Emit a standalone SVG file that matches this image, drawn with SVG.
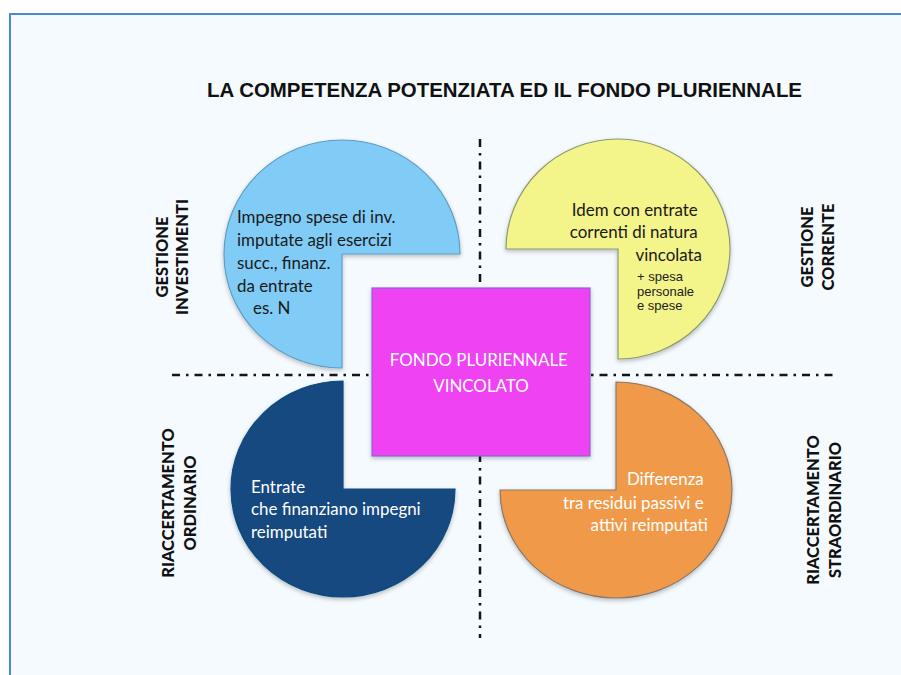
<svg xmlns="http://www.w3.org/2000/svg" width="901" height="675" viewBox="0 0 901 675">
  <defs>
    <filter id="sh" x="-10%" y="-10%" width="120%" height="125%">
      <feDropShadow dx="0" dy="2" stdDeviation="2" flood-color="#000" flood-opacity="0.25"/>
    </filter>
  </defs>
  <style>
    .title{font-family:"Liberation Sans",Arial,sans-serif;font-weight:bold;font-size:21px;fill:#111}
    .side{font-family:"Lato","Liberation Sans",sans-serif;font-weight:900;font-size:16.5px;fill:#111;text-anchor:middle}
    .body{font-family:"Lato","Liberation Sans",sans-serif;font-size:16.9px}
    .small{font-family:"Liberation Sans",Arial,sans-serif;font-size:13px;fill:#222}
    .axis{stroke:#151515;stroke-width:2.5;fill:none;stroke-dasharray:8 6 2.5 6}
    .shape{stroke-width:1.2}
  </style>
  <rect x="0" y="0" width="901" height="675" fill="#ffffff"/>
  <rect x="10" y="14" width="900" height="670" fill="#f4fafd" stroke="#4a88d8" stroke-width="2"/>

  <text class="title" x="207" y="97" textLength="595" lengthAdjust="spacingAndGlyphs">LA COMPETENZA POTENZIATA ED IL FONDO PLURIENNALE</text>

  <g id="connectors">
    <line class="axis" x1="172" y1="375" x2="833" y2="375"/>
    <line class="axis" x1="480" y1="139" x2="480" y2="638"/>
  </g>

  <g id="gestione-investimenti">
    <path class="shape" d="M342,254 L460,254 A118,114 0 1 0 342,368 Z" fill="#80ccf6" stroke="#5f9dc4" filter="url(#sh)"/>
    <text class="body" fill="#1a1a1a">
      <tspan x="237" y="223">Impegno spese di inv.</tspan>
      <tspan x="237" y="246">imputate agli esercizi</tspan>
      <tspan x="237" y="269">succ., finanz.</tspan>
      <tspan x="237" y="292">da entrate</tspan>
      <tspan x="253" y="314">es. N</tspan>
    </text>
  </g>

  <g id="gestione-corrente">
    <path class="shape" d="M618,249 L618,359 A112,110 0 1 0 506,249 Z" fill="#f3f48a" stroke="#8c9a70" filter="url(#sh)"/>
    <text class="body" fill="#1a1a1a" text-anchor="end">
      <tspan x="702" y="216">Idem con entrate</tspan>
      <tspan x="702" y="238">correnti di natura</tspan>
      <tspan x="702" y="261">vincolata</tspan>
    </text>
    <text class="small">
      <tspan x="637" y="281">+ spesa</tspan>
      <tspan x="637" y="296">personale</tspan>
      <tspan x="637" y="310">e spese</tspan>
    </text>
  </g>

  <g id="riaccertamento-ordinario">
    <path class="shape" d="M343,489 L343,381 A112,108 0 1 0 455,489 Z" fill="#124a80" stroke="#124a80" filter="url(#sh)"/>
    <text class="body" fill="#ffffff">
      <tspan x="251" y="493">Entrate</tspan>
      <tspan x="251" y="515">che finanziano impegni</tspan>
      <tspan x="251" y="538">reimputati</tspan>
    </text>
  </g>

  <g id="riaccertamento-straordinario">
    <path class="shape" d="M616,490 L500,490 A116,108 0 1 0 616,382 Z" fill="#f09a48" stroke="#8a7868" filter="url(#sh)"/>
    <text class="body" fill="#ffffff" text-anchor="end">
      <tspan x="708" y="485">Differenza</tspan>
      <tspan x="708" y="509">tra residui passivi e</tspan>
      <tspan x="708" y="531">attivi reimputati</tspan>
    </text>
  </g>

  <g id="fondo-pluriennale-vincolato">
    <rect x="372" y="288" width="218" height="168" fill="#ee42f3" stroke="#8a66d8" stroke-width="1.2" filter="url(#sh)"/>
    <text class="body" fill="#ffffff" text-anchor="middle" font-size="18.5">
      <tspan x="481" y="366">FONDO PLURIENNALE</tspan>
      <tspan x="481" y="392">VINCOLATO</tspan>
    </text>
  </g>

  <g id="side-labels">
    <text class="side" transform="translate(162,257) rotate(-90)" y="6">GESTIONE</text>
    <text class="side" transform="translate(182,257) rotate(-90)" y="6">INVESTIMENTI</text>
    <text class="side" transform="translate(807,247) rotate(-90)" y="6">GESTIONE</text>
    <text class="side" transform="translate(828,247) rotate(-90)" y="6">CORRENTE</text>
    <text class="side" transform="translate(168,503) rotate(-90)" y="6">RIACCERTAMENTO</text>
    <text class="side" transform="translate(190,503) rotate(-90)" y="6">ORDINARIO</text>
    <text class="side" transform="translate(813,510) rotate(-90)" y="6">RIACCERTAMENTO</text>
    <text class="side" transform="translate(835,510) rotate(-90)" y="6">STRAORDINARIO</text>
  </g>
</svg>
